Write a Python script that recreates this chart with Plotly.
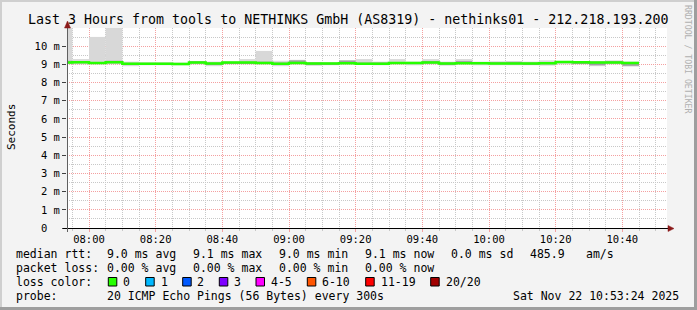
import plotly.graph_objects as go
from datetime import datetime, timedelta

# ---------------- data ----------------
step_start = "2025-11-22 07:50:00"
n_steps = 35
# median rtt per 5-min step (ms)
median_ms = [9.10, 9.12, 9.07, 9.12, 9.04, 9.03, 9.03, 9.02, 9.10, 9.05,
             9.10, 9.10, 9.08, 9.03, 9.07, 9.05, 9.05, 9.06, 9.04, 9.04,
             9.07, 9.07, 9.10, 9.05, 9.06, 9.06, 9.05, 9.05, 9.05, 9.06,
             9.13, 9.12, 9.10, 9.10, 9.08]
# smoke (outer range) per step (ms)
smoke_lo = [9.00, 9.00, 9.00, 9.00, 8.90, 8.95, 8.95, 8.95, 9.00, 8.90,
            9.00, 9.00, 9.00, 8.90, 9.00, 8.92, 8.95, 9.00, 9.00, 8.95,
            9.00, 8.95, 9.00, 8.93, 9.00, 8.95, 8.95, 8.95, 8.95, 8.93,
            9.00, 9.00, 8.90, 9.00, 8.88]
smoke_hi = [12.50, 9.29, 10.51, 11.80, 9.15, 9.12, 9.12, 9.10, 9.18, 9.15,
            9.12, 9.29, 9.74, 9.20, 9.25, 9.13, 9.12, 9.23, 9.29, 9.15,
            9.29, 9.15, 9.29, 9.15, 9.29, 9.15, 9.17, 9.15, 9.15, 9.22,
            9.17, 9.17, 9.17, 9.22, 9.15]
# darker core of the smoke per step (ms)
core_lo = [9.05, 9.06, 9.03, 9.06, 9.00, 9.00, 9.00, 9.00, 9.05, 9.00,
           9.05, 9.05, 9.03, 8.97, 9.03, 9.00, 9.00, 9.02, 9.00, 9.00,
           9.02, 9.02, 9.05, 9.00, 9.02, 9.02, 9.00, 9.00, 9.00, 9.00,
           9.08, 9.07, 8.95, 9.05, 8.92]
core_hi = [9.20, 9.18, 9.12, 9.20, 9.08, 9.07, 9.07, 9.06, 9.17, 9.10,
           9.15, 9.15, 9.15, 9.10, 9.22, 9.10, 9.09, 9.21, 9.10, 9.10,
           9.12, 9.12, 9.18, 9.10, 9.18, 9.10, 9.12, 9.15, 9.10, 9.12,
           9.16, 9.15, 9.15, 9.18, 9.12]

y_tick_vals = [0, 1, 2, 3, 4, 5, 6, 7, 8, 9, 10]
y_tick_text = ["0\u00a0\u00a0", "1 m", "2 m", "3 m", "4 m", "5 m", "6 m", "7 m", "8 m", "9 m", "10 m"]

title_text = "Last 3 Hours from tools to NETHINKS GmbH (AS8319) - nethinks01 - 212.218.193.200"
row1 = ["median rtt:", "9.0 ms avg", "9.1 ms max", "9.0 ms min", "9.1 ms now", "0.0 ms sd", "485.9", "am/s"]
row2 = ["packet loss:", "0.00 % avg", "0.00 % max", "0.00 % min", "0.00 % now"]
loss_labels = ["0", "1", "2", "3", "4-5", "6-10", "11-19", "20/20"]
loss_colors = ["#26ff00", "#00b8ff", "#0059ff", "#7e00ff", "#ff00ff", "#ff5500", "#ff0000", "#a10000"]
row4 = ["probe:", "20 ICMP Echo Pings (56 Bytes) every 300s", "Sat Nov 22 10:53:24 2025"]

x_range = ["2025-11-22 07:53:24", "2025-11-22 10:53:24"]

# ---------------- layout geometry (pixels) ----------------
W, H = 697, 310
L, R, T, B = 67, 30, 28, 82
PW, PH = W - L - R, H - T - B
def px(x): return (x - L) / PW
def py(y): return (H - B - y) / PH

t0 = datetime.strptime(step_start, "%Y-%m-%d %H:%M:%S")
xs = [t0 + timedelta(minutes=5 * i) for i in range(n_steps)]
xs_line = xs + [xs[-1] + timedelta(minutes=5)]
med_line = median_ms + [median_ms[-1]]

# 5-minute grid ticks, labelled every 20 minutes
g0 = datetime(2025, 11, 22, 7, 55)
grid_ticks = [g0 + timedelta(minutes=5 * i) for i in range(36)]
grid_text = [t.strftime("%H:%M") if t.minute % 20 == 0 else "" for t in grid_ticks]

MONO = "DejaVu Sans Mono"
fig = go.Figure()
fig.add_trace(go.Bar(x=xs, y=[h - l for h, l in zip(smoke_hi, smoke_lo)], base=smoke_lo,
                     width=300000, offset=0, marker=dict(color="#d8d8d8", line=dict(width=0)),
                     hoverinfo="skip", showlegend=False))
fig.add_trace(go.Bar(x=xs, y=[h - l for h, l in zip(core_hi, core_lo)], base=core_lo,
                     width=300000, offset=0, marker=dict(color="#a0a0a0", line=dict(width=0)),
                     hoverinfo="skip", showlegend=False))
fig.add_trace(go.Scatter(x=xs_line, y=med_line, mode="lines", xaxis="x2",
                         line=dict(color="#26ff00", width=2.5, shape="hv"),
                         hoverinfo="skip", showlegend=False))

shapes = []
# borders
shapes.append(dict(type="rect", xref="paper", yref="paper", x0=px(0), x1=px(W), y0=py(0), y1=py(2),
                   fillcolor="#cfcfcf", line=dict(width=0), layer="below"))
shapes.append(dict(type="rect", xref="paper", yref="paper", x0=px(0), x1=px(2), y0=py(0), y1=py(H),
                   fillcolor="#cfcfcf", line=dict(width=0), layer="below"))
shapes.append(dict(type="rect", xref="paper", yref="paper", x0=px(0), x1=px(W), y0=py(307), y1=py(H),
                   fillcolor="#9e9e9e", line=dict(width=0), layer="below"))
shapes.append(dict(type="rect", xref="paper", yref="paper", x0=px(694), x1=px(W), y0=py(0), y1=py(H),
                   fillcolor="#9e9e9e", line=dict(width=0), layer="below"))
# axis lines
shapes.append(dict(type="line", xref="paper", yref="paper", x0=px(63), x1=px(670), y0=py(228.5), y1=py(228.5),
                   line=dict(color="#000000", width=1)))
shapes.append(dict(type="line", xref="paper", yref="paper", x0=px(67.5), x1=px(67.5), y0=py(232), y1=py(25),
                   line=dict(color="#606060", width=1)))
# arrows
shapes.append(dict(type="path", xref="paper", yref="paper",
                   path=f"M {px(668)} {py(225.5)} L {px(674)} {py(228.5)} L {px(668)} {py(231.5)} Z",
                   fillcolor="#8b1a1a", line=dict(color="#8b1a1a", width=0.5)))
shapes.append(dict(type="path", xref="paper", yref="paper",
                   path=f"M {px(64.5)} {py(28)} L {px(67.5)} {py(21)} L {px(70.5)} {py(28)} Z",
                   fillcolor="#8b1a1a", line=dict(color="#8b1a1a", width=0.5)))

ann = []
def text(x, y, s, size=11.5, color="#000000", **kw):
    ann.append(dict(xref="paper", yref="paper", x=px(x), y=py(y), text=s, showarrow=False,
                    xanchor=kw.pop("xanchor", "left"), yanchor="middle",
                    font=dict(family=MONO, size=size, color=color), **kw))

text(347.5, 19, title_text, size=13.3, xanchor="center")
text(11, 127, "Seconds", size=11, xanchor="center", textangle=-90)
text(688, 59, "RRDTOOL / TOBI OETIKER", size=8.2, color="#b0b0b0", xanchor="center", textangle=90)

r1x = [16, 107.3, 193.3, 279.3, 365, 451, 530, 586]
for s, x in zip(row1, r1x):
    text(x - 2, 254.3, s)
r2x = [16, 107.3, 193.3, 279.3, 365]
for s, x in zip(row2, r2x):
    text(x - 2, 268.3, s)
text(14, 282.3, "loss color:")
boxx = [108.3, 145.7, 182.7, 219.3, 256, 307.3, 365.7, 430.7]
labx = [123.3, 161, 197.3, 234.3, 271, 321.7, 380.7, 445.7]
for lab, col, bx, lx in zip(loss_labels, loss_colors, boxx, labx):
    shapes.append(dict(type="rect", xref="paper", yref="paper", x0=px(bx), x1=px(bx + 8.5),
                       y0=py(277.5), y1=py(286), fillcolor=col, line=dict(color="#000000", width=1)))
    text(lx - 2, 282.3, lab)
r4x = [16, 107.3, 513.3]
for s, x in zip(row4, r4x):
    text(x - 2, 296, s)

MAJOR = "#f4a0a0"
MINOR = "#c8c8c8"
fig.update_layout(
    width=W, height=H, margin=dict(l=L, r=R, t=T, b=B, pad=0),
    paper_bgcolor="#f3f3f3", plot_bgcolor="#ffffff",
    barmode="overlay", showlegend=False,
    shapes=shapes, annotations=ann,
    xaxis=dict(type="date", range=x_range, tickmode="array", tickvals=grid_ticks, ticktext=grid_text,
               showgrid=True, gridcolor=MINOR, griddash="1px,1px", gridwidth=1,
               ticks="outside", ticklen=2, tickcolor=MINOR,
               tickfont=dict(family=MONO, size=10.5, color="#000000"),
               ticklabelstandoff=-1,
               showline=False, zeroline=False, fixedrange=True),
    xaxis2=dict(type="date", range=x_range, overlaying="x", anchor="y", side="bottom",
                tick0="2025-11-22 08:00:00", dtick=1200000, showticklabels=False,
                showgrid=True, gridcolor=MAJOR, griddash="1px,1px", gridwidth=1,
                ticks="outside", ticklen=3, tickcolor=MAJOR,
                showline=False, zeroline=False, fixedrange=True),
    yaxis=dict(range=[0, 11], tickvals=y_tick_vals, ticktext=y_tick_text,
               showgrid=True, gridcolor=MAJOR, griddash="1px,1px", gridwidth=1,
               ticks="outside", ticklen=4, tickcolor="#404040",
               tickfont=dict(family=MONO, size=10.5, color="#000000"),
               showline=False, zeroline=False, fixedrange=True,
               minor=dict(dtick=0.5, showgrid=True, gridcolor=MINOR,
                          griddash="1px,1px", gridwidth=1)),
)

fig.write_html("out.html")
